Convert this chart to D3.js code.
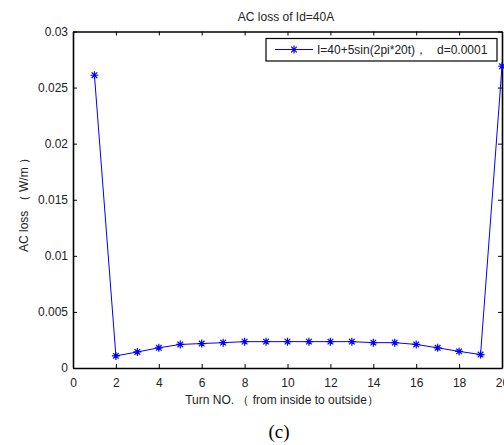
<!DOCTYPE html>
<html>
<head>
<meta charset="utf-8">
<script src="https://cdn.jsdelivr.net/npm/d3@7"></script>
<style>
  body { margin: 0; background: #fff; }
  svg { display: block; }
</style>
</head>
<body>
<div id="chart"></div>
<script>
// data
var turns = [1, 2, 3, 4, 5, 6, 7, 8, 9, 10, 11, 12, 13, 14, 15, 16, 17, 18, 19, 20];
var acLoss = [0.0261, 0.00108, 0.00143, 0.0018, 0.0021, 0.00218, 0.00226, 0.00235, 0.00235, 0.00235,
              0.00235, 0.00235, 0.00235, 0.00226, 0.00226, 0.0021, 0.0018, 0.00148, 0.0012, 0.0269];
var xTicks = [0, 2, 4, 6, 8, 10, 12, 14, 16, 18, 20];
var yTicks = [0, 0.005, 0.01, 0.015, 0.02, 0.025, 0.03];

function drawChart() {

var svgWidth = 504;
var svgHeight = 445;
var margin = { top: 31.5, right: 2, bottom: 77, left: 73 };
var width = svgWidth - margin.left - margin.right;
var height = svgHeight - margin.top - margin.bottom;
var sans = "Liberation Sans, Arial, sans-serif";

var svg = d3.select("#chart").append("svg")
  .attr("width", svgWidth)
  .attr("height", svgHeight);

var g = svg.append("g")
  .attr("transform", `translate(${margin.left}, ${margin.top})`);

var x = d3.scaleLinear().domain([0, 20]).range([0, width]);
var y = d3.scaleLinear().domain([0, 0.03]).range([height, 0]);

function fmt(d) { return d === 0 ? "0" : String(+d.toFixed(3)); }

// axes with inward ticks on all four sides
var axBottom = g.append("g").attr("transform", `translate(0, ${height})`)
  .call(d3.axisBottom(x).tickValues(xTicks).tickSizeInner(-4).tickSizeOuter(0).tickPadding(10).tickFormat(d3.format("d")));
var axTop = g.append("g")
  .call(d3.axisTop(x).tickValues(xTicks).tickSizeInner(-4).tickSizeOuter(0).tickFormat(""));
var axLeft = g.append("g")
  .call(d3.axisLeft(y).tickValues(yTicks).tickSizeInner(-4).tickSizeOuter(0).tickPadding(5).tickFormat(fmt));
var axRight = g.append("g").attr("transform", `translate(${width}, 0)`)
  .call(d3.axisRight(y).tickValues(yTicks).tickSizeInner(-4).tickSizeOuter(0).tickFormat(""));

[axBottom, axTop, axLeft, axRight].forEach(function(a) {
  a.attr("font-family", sans).attr("font-size", 12);
  a.selectAll("path").attr("stroke", "#000").attr("stroke-width", 1.6);
  a.selectAll("line").attr("stroke", "#000");
  a.selectAll("text").attr("fill", "#222");
});

// series line
var line = d3.line()
  .x(function(d, i) { return x(turns[i]); })
  .y(function(d) { return y(d); });

g.append("path")
  .datum(acLoss)
  .attr("d", line)
  .attr("fill", "none")
  .attr("stroke", "#0000ff")
  .attr("stroke-width", 1);

// star markers (plus + cross)
function star(sel, s) {
  sel.append("path")
    .attr("d", `M${-s},0H${s}M0,${-s}V${s}M${-s*0.7},${-s*0.7}L${s*0.7},${s*0.7}M${-s*0.7},${s*0.7}L${s*0.7},${-s*0.7}`)
    .attr("stroke", "#0000ff")
    .attr("stroke-width", 1.2)
    .attr("fill", "none");
}

g.selectAll(".mk")
  .data(acLoss)
  .enter()
  .append("g")
  .attr("class", "mk")
  .attr("transform", function(d, i) { return `translate(${x(turns[i])}, ${y(d)})`; })
  .each(function() { star(d3.select(this), 4); });

// legend
var lg = svg.append("g").attr("font-family", sans).attr("font-size", 12);
lg.append("rect")
  .attr("x", 266).attr("y", 38.5).attr("width", 231).attr("height", 22.5)
  .attr("fill", "#fff").attr("stroke", "#000").attr("stroke-width", 1.2);
lg.append("line")
  .attr("x1", 275).attr("x2", 313).attr("y1", 49.5).attr("y2", 49.5)
  .attr("stroke", "#0000ff").attr("stroke-width", 1);
star(lg.append("g").attr("transform", "translate(294, 49.5)"), 4);
var lt = lg.append("text")
  .attr("x", 317).attr("y", 54)
  .attr("fill", "#222");
lt.append("tspan").text("I=40+5sin(2pi*20t)，");
lt.append("tspan").attr("x", 437).text("d=0.0001");

// titles
svg.append("text")
  .attr("x", 286).attr("y", 21)
  .attr("text-anchor", "middle")
  .attr("font-family", sans)
  .attr("font-size", 12).attr("fill", "#222")
  .text("AC loss of Id=40A");

svg.append("text")
  .attr("x", 282).attr("y", 404)
  .attr("text-anchor", "middle")
  .attr("font-family", sans)
  .attr("font-size", 12).attr("fill", "#222")
  .text("Turn NO. （ from inside to outside）");

svg.append("text")
  .attr("transform", "translate(28, 202) rotate(-90)")
  .attr("text-anchor", "middle")
  .attr("font-family", sans)
  .attr("font-size", 12).attr("fill", "#222")
  .text("AC loss （ W/m ）");

svg.append("text")
  .attr("x", 279).attr("y", 438)
  .attr("text-anchor", "middle")
  .attr("font-family", "Liberation Serif, Times New Roman, serif")
  .attr("font-size", 19).attr("fill", "#000")
  .text("(c)");
}

drawChart();
</script>
</body>
</html>
